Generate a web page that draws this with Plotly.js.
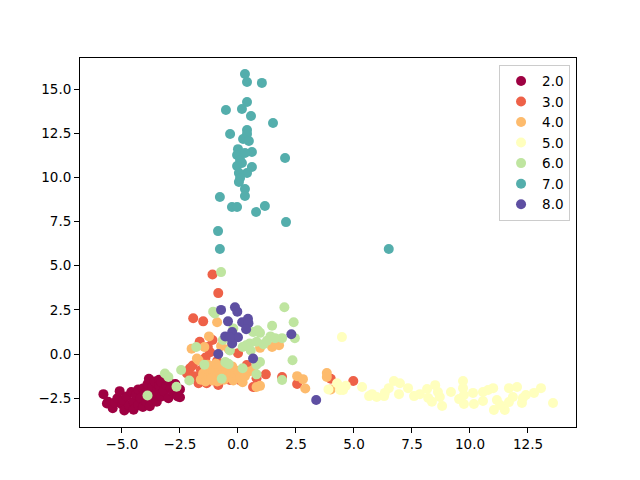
<!DOCTYPE html>
<html>
<head>
<meta charset="utf-8">
<script src="https://cdn.plot.ly/plotly-3.0.1.min.js"></script>
<style>
html, body { margin: 0; padding: 0; background: #fff; }
#chart { width: 640px; height: 480px; }
</style>
</head>
<body>
<div id="chart"></div>
<script>
const names = ['2.0', '3.0', '4.0', '5.0', '6.0', '7.0', '8.0'];
const colors = ['#9e0142', '#ee6148', '#fdbb6d', '#ffffbe', '#bfe5a0', '#54aeac', '#5e4fa2'];

const x2 = [-5.8, -5.65, -5.6, -5.4, -5.3, -5.2, -5.1, -5.0, -4.95, -4.9, -4.8, -4.7, -4.6, -4.5, -4.5, -4.4, -4.3, -4.3, -4.2, -4.1, -4.1, -4.0, -3.95, -3.9, -3.84, -3.8, -3.7, -3.7, -3.6, -3.5, -3.5, -3.4, -3.4, -3.3, -3.3, -3.2, -3.1, -3.0, -3.0, -2.9, -2.8, -2.7, -2.6, -2.5, -2.5];
const y2 = [-2.27, -2.8, -2.7, -3.07, -2.75, -2.5, -2.1, -2.85, -2.6, -3.2, -2.4, -2.9, -2.15, -2.7, -3.15, -2.3, -2.0, -2.9, -2.5, -3.0, -1.95, -2.2, -2.7, -1.7, -1.4, -2.95, -2.45, -1.9, -1.55, -2.7, -2.1, -1.45, -1.8, -2.4, -1.6, -2.1, -1.75, -2.5, -1.5, -1.95, -2.2, -1.7, -2.4, -2.0, -2.45];

const x3 = [-1.1, -0.85, -1.93, -1.5, -1.65, -1.1, -1.3, -1.2, -1.5, -2.07, -2.2, -1.95, -1.9, -1.7, -1.6, -1.35, -1.2, -1.0, -0.85, -0.6, -0.35, -0.1, 0.38, 0, 1.2, 0.8, 0.65, 1.9, 2.55, 4.0, 4.97, -1.4, -0.9, 0.1];
const y3 = [4.5, 3.45, 2.03, 1.85, 0.7, 0.8, 0.4, 0.1, -0.4, -0.8, -1.1, -0.65, -1.25, -1.65, -0.9, -1.65, -0.7, -1.2, -1.75, -0.9, -1.47, -1.2, -0.62, 0.05, -1.15, -1.37, -1.87, -1.3, -1.7, -1.4, -1.53, -0.2, -0.4, -1.5];

const x4 = [-0.9, -1.25, -1.45, -2.0, -1.77, -1.7, -0.73, -0.4, 1.47, 1.77, 0.95, 2.55, 2.8, 2.9, 0.95, 0.8, 3.83, 3.83, 4.0, 0.2, 0.45, 0.65, -1.6, -1.5, -1.4, -1.35, -1.25, -1.2, -1.1, -1.05, -1.0, -0.9, -0.8, -0.75, -0.6, -0.5, -0.4, -0.3, -0.2, -0.1, 0, 0.1, 0.3, -1.3, -1.15, -0.95, -0.8, -0.55, -0.25];
const y4 = [1.8, 1.0, 0.4, 0.3, -0.25, -0.35, 0.45, 0.28, 0.4, 0.5, 0.35, -1.25, -1.42, -1.95, -1.8, -1.87, -1.08, -1.3, -2.0, -1.6, -1.0, -0.9, -1.45, -1.1, -1.55, -0.95, -1.3, -0.75, -1.5, -1.05, -1.25, -1.55, -0.8, -1.2, -1.45, -0.95, -1.3, -1.0, -1.5, -1.15, -0.95, -1.3, -1.25, -0.6, -1.4, -0.55, -1.5, -0.7, -0.7];

const x5 = [4.48, 4.27, 3.9, 4.53, 4.65, 4.4, 5.35, 5.65, 5.78, 5.98, 6.3, 6.5, 6.33, 6.72, 6.98, 6.94, 7.33, 7.59, 7.84, 8.15, 8.2, 8.36, 8.5, 8.62, 8.7, 8.8, 9.18, 9.53, 9.7, 9.7, 9.74, 9.74, 10.13, 10.17, 10.56, 10.56, 10.78, 11.0, 11.16, 11.03, 11.5, 11.3, 11.68, 11.68, 12.03, 11.85, 12.24, 12.41, 12.76, 13.06, 13.58, 12.28];
const y5 = [0.96, -1.65, -2.0, -2.03, -1.8, -2.03, -1.87, -2.38, -2.27, -2.43, -2.38, -1.93, -2.2, -1.53, -1.65, -2.27, -1.93, -2.38, -2.27, -1.98, -2.49, -2.7, -1.76, -2.15, -2.43, -2.94, -2.15, -2.55, -1.53, -1.93, -2.32, -2.83, -2.2, -2.83, -2.66, -2.15, -2.04, -1.93, -2.6, -3.17, -3.17, -2.89, -2.72, -1.93, -1.87, -2.43, -2.77, -2.32, -2.2, -1.93, -2.77, -2.49];

const x6 = [-3.9, -3.15, -3.0, -2.65, -2.45, -2.1, -1.45, -0.7, 0.2, -1.07, -1.8, -0.5, -0.73, 2.0, 2.4, 1.47, 2.35, 1.9, 0.8, 2.45, 1.9, 1.4, 1.1, 0.85, 0.65, 0.5, 0.2, 0.95, 0.8, -0.55, -0.4, -0.2, -0.65, -0.35, 0.55, 0.8, 0.95, 1.6, 1.25, -1.0, 0.35];
const y6 = [-2.35, -1.1, -1.3, -1.85, -0.9, -1.5, -0.6, -1.4, -0.8, 2.4, 0.4, -0.5, 4.64, 2.65, 1.8, 1.6, -0.35, -1.47, -1.15, 0.9, 0.9, 1.0, 0.55, 1.35, 1.25, 0.6, 0.4, -0.45, -0.6, -0.45, -0.57, 1.45, 0.8, 0.2, 0.2, 0.7, 1.2, 0.9, 0.75, 2.3, 0.5];

const x7 = [0.3, 0.39, 1.03, 0.39, 0.17, -0.52, 0.56, 1.51, 0.39, 0.39, -0.34, 0.22, 0.47, 0.6, 0, -0.04, 0.09, 2.03, 0.3, 0.17, -0.04, 0.6, 0.39, 0.04, 0.09, 0.04, 0.3, 0.3, -0.78, -0.26, -0.04, 1.16, 0.78, 2.07, -0.86, -0.78, 6.5];
const y7 = [15.85, 15.4, 15.35, 14.27, 13.87, 13.82, 13.48, 13.08, 12.68, 12.46, 12.46, 12.17, 12.06, 11.44, 11.6, 11.27, 10.99, 11.1, 11.38, 10.82, 10.65, 10.59, 10.25, 10.25, 9.97, 9.74, 9.34, 8.95, 8.89, 8.32, 8.32, 8.38, 8.04, 7.47, 6.96, 5.95, 5.95];

const x8 = [-0.73, -0.13, -0.03, -0.43, 0.43, 0.18, 0.45, 0.35, -0.25, -0.55, 0, -0.25, -0.35, 2.3, -0.85, 0.65, 3.37];
const y8 = [2.5, 2.65, 2.4, 1.85, 2.0, 1.8, 1.75, 1.4, 1.25, 1.0, 0.95, 0.6, 0.95, 1.12, 0, -0.25, -2.6];

const xs = [x2, x3, x4, x5, x6, x7, x8];
const ys = [y2, y3, y4, y5, y6, y7, y8];

const traces = names.map(function (name, i) {
    return {
        x: xs[i],
        y: ys[i],
        type: 'scatter',
        mode: 'markers',
        name: name,
        cliponaxis: false,
        marker: { color: colors[i], size: 10, line: { width: 0 } }
    };
});

const axisStyle = {
    showgrid: false,
    zeroline: false,
    showline: true,
    mirror: true,
    linecolor: '#000',
    linewidth: 1,
    ticks: 'outside',
    ticklen: 5,
    tickwidth: 1,
    tickcolor: '#000',
    tickformat: '.1f',
    dtick: 2.5,
    tick0: 0
};

const layout = {
    width: 640,
    height: 480,
    autosize: false,
    paper_bgcolor: '#fff',
    plot_bgcolor: '#fff',
    font: { family: 'DejaVu Sans', size: 13.5, color: '#000' },
    margin: { l: 80, r: 64, t: 58, b: 53 },
    xaxis: Object.assign({ range: [-6.81, 14.57] }, axisStyle),
    yaxis: Object.assign({ range: [-4.13, 16.76] }, axisStyle),
    legend: {
        x: 0.988,
        y: 0.982,
        xanchor: 'right',
        yanchor: 'top',
        bgcolor: 'rgba(255,255,255,0.8)',
        bordercolor: '#ccc',
        borderwidth: 1,
        tracegroupgap: 0,
        itemwidth: 32,
        font: { family: 'DejaVu Sans', size: 13.5, color: '#000' }
    },
    showlegend: true
};

Plotly.newPlot('chart', traces, layout, { displayModeBar: false });
</script>
</body>
</html>
